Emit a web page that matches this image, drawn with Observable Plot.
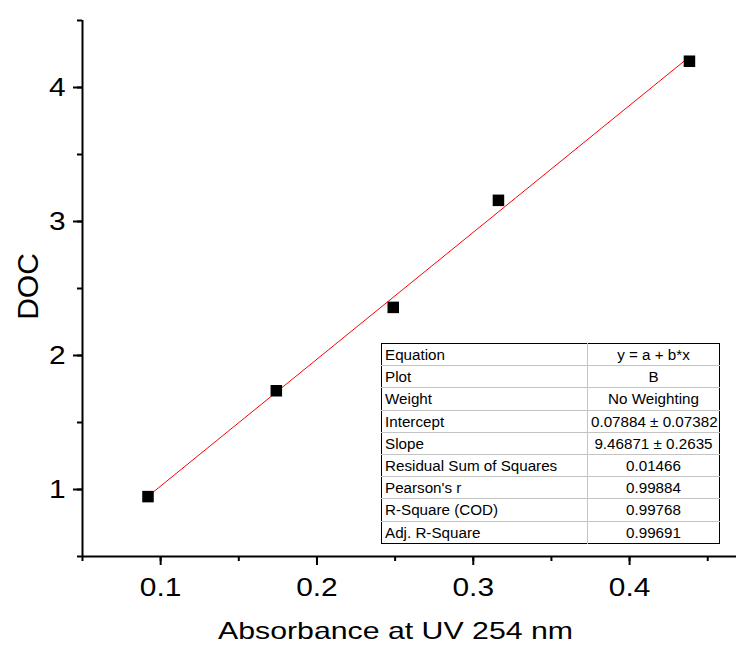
<!DOCTYPE html>
<html>
<head>
<meta charset="utf-8">
<script src="https://cdn.jsdelivr.net/npm/d3@7"></script>
<script src="https://cdn.jsdelivr.net/npm/@observablehq/plot@0.6"></script>
<style>
  html, body { margin: 0; padding: 0; background: #fff; }
  #wrap { position: relative; width: 736px; height: 646px; overflow: hidden; }
  #tbl { position: absolute; left: 381px; top: 343px; }
  #tbl table { table-layout: fixed; width: 339px; border-collapse: collapse; border: 1.3px solid #000; font-family: "Liberation Sans", Arial, sans-serif; font-size: 15.2px; color: #000; background: #fff; }
  #tbl td { height: 21.2px; padding: 0 3px; line-height: 21px; border-top: 1px solid #c4c4c4; white-space: nowrap; overflow: hidden; }
  #tbl tr:first-child td { border-top: none; }
  #tbl td.k { width: 199px; text-align: left; border-right: 1px solid #c4c4c4; }
  #tbl td.v { text-align: center; }
</style>
</head>
<body>
<div id="wrap"></div>
<script>
// ---- data ----
const absorbance = [0.0919, 0.174, 0.2488, 0.3161, 0.4383];
const doc = [0.947, 1.737, 2.359, 3.158, 4.196];
const fitIntercept = 0.07884;
const fitSlope = 9.46871;
const xMajorTicks = [0.1, 0.2, 0.3, 0.4];
const yMajorTicks = [1, 2, 3, 4];
const xMinorTicks = [0.05, 0.1, 0.15, 0.2, 0.25, 0.3, 0.35, 0.4, 0.45];
const yMinorTicks = [0.5, 1, 1.5, 2, 2.5, 3, 3.5, 4, 4.5];
const xTitle = "Absorbance at UV 254 nm";
const yTitle = "DOC";
const tableLabels = ["Equation", "Plot", "Weight", "Intercept", "Slope", "Residual Sum of Squares", "Pearson's r", "R-Square (COD)", "Adj. R-Square"];
const tableValues = ["y = a + b*x", "B", "No Weighting", "0.07884 \u00b1 0.07382", "9.46871 \u00b1 0.2635", "0.01466", "0.99884", "0.99768", "0.99691"];

// ---- derived ----
const points = absorbance.map((a, i) => ({abs: a, doc: doc[i]}));
const xFit = [d3.min(absorbance), d3.max(absorbance)];
const fitLine = xFit.map(a => ({abs: a, doc: fitIntercept + fitSlope * a}));

const chart = Plot.plot({
  width: 736,
  height: 646,
  marginLeft: 82,
  marginRight: 0,
  marginTop: 20,
  marginBottom: 90,
  style: {fontFamily: "'Liberation Sans', Arial, sans-serif", fontSize: "26px", color: "#000", background: "#fff"},
  x: {domain: [0.05, 0.4684], label: null},
  y: {domain: [0.5, 4.5], label: null},
  marks: [
    Plot.axisX({ticks: xMinorTicks, tickSize: 5, tickFormat: () => "", strokeWidth: 2, label: null}),
    Plot.axisX({ticks: xMajorTicks, tickSize: 9, tickPadding: 12, strokeWidth: 2, label: null, tickFormat: d3.format(".1f")}),
    Plot.axisY({ticks: yMinorTicks, tickSize: 5, tickFormat: () => "", strokeWidth: 2, label: null}),
    Plot.axisY({ticks: yMajorTicks, tickSize: 9, tickPadding: 8, strokeWidth: 2, label: null, tickFormat: d3.format("d")}),
    Plot.ruleY([0.5], {stroke: "#000", strokeWidth: 2}),
    Plot.ruleX([0.05], {stroke: "#000", strokeWidth: 2}),
    Plot.line(fitLine, {x: "abs", y: "doc", stroke: "#ff0000", strokeWidth: 1}),
    Plot.dot(points, {x: "abs", y: "doc", symbol: "square", r: 6.5, fill: "#000", stroke: "none"}),
    Plot.text([xTitle], {frameAnchor: "bottom", dx: -14, dy: 75, lineAnchor: "middle", textAnchor: "middle", fontSize: 24, fill: "#000"}),
    Plot.text([yTitle], {frameAnchor: "left", dx: -54, dy: -2, rotate: -90, lineAnchor: "middle", textAnchor: "middle", fontSize: 30, fill: "#000"})
  ]
});

const wrap = document.getElementById("wrap");
wrap.appendChild(chart);

// the reference's lettering is a little wider than the font: stretch it horizontally
const tickTexts = new Set([...xMajorTicks.map(d3.format(".1f")), ...yMajorTicks.map(d3.format("d"))]);
d3.select(chart).selectAll("text").each(function() {
  const t = this.textContent;
  if (t === xTitle) {
    d3.select(this).attr("textLength", 355).attr("lengthAdjust", "spacingAndGlyphs");
  } else if (tickTexts.has(t)) {
    const len = this.getComputedTextLength();
    d3.select(this).attr("textLength", len * 1.15).attr("lengthAdjust", "spacingAndGlyphs");
  }
});

// fit statistics table
const tdiv = document.createElement("div");
tdiv.id = "tbl";
const table = d3.select(tdiv).append("table");
const rows = table.selectAll("tr").data(tableLabels.map((k, i) => [k, tableValues[i]])).join("tr");
rows.append("td").attr("class", "k").text(d => d[0]);
rows.append("td").attr("class", "v").text(d => d[1]);
wrap.appendChild(tdiv);
</script>
</body>
</html>
